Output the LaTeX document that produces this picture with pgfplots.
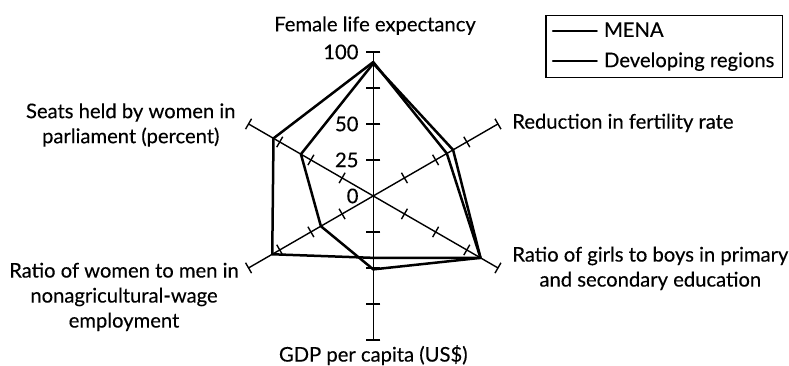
\documentclass[border=0pt]{standalone}
\usepackage{fontspec}
\setmainfont{Lato}[FakeBold=0.3]
\usepackage{pgfplots}
\pgfplotsset{compat=1.18}

\begin{document}
\begin{tikzpicture}[lbl/.style={font=\fontsize{10.1}{12.5}\selectfont, align=center, inner sep=0pt}]
\begin{axis}[
  scale only axis,
  width=394.5pt, height=183pt,
  xmin=-259.2, xmax=288.7,
  ymin=-118.1, ymax=136.1,
  hide axis, clip=false,
  legend style={at={(axis cs:284.5,125.8)}, anchor=north east,
    font=\fontsize{10.1}{11}\selectfont, draw=black, line width=0.6pt,
    nodes={inner sep=1pt}, inner xsep=3pt, inner ysep=2.5pt, row sep=4.2pt},
  legend cell align=left,
  legend image code/.code={\draw[#1, line width=0.9pt] (0pt,0pt) -- (22pt,0pt); \path (24pt,0pt);},
]
% spokes
\addplot[forget plot, data cs=polar, black, line width=0.7pt] coordinates {(90,100) (-90,100)};
\addplot[forget plot, data cs=polar, black, line width=0.7pt] coordinates {(30,100) (210,100)};
\addplot[forget plot, data cs=polar, black, line width=0.7pt] coordinates {(150,100) (-30,100)};
% ticks
\addplot[forget plot, data cs=polar, only marks, mark=-, mark size=3.5pt,
  mark options={black, line width=0.7pt}]
  coordinates {(90,25) (90,50) (90,75) (90,100) (-90,25) (-90,50) (-90,75) (-90,100)};
\addplot[forget plot, data cs=polar, only marks, mark=|, mark size=3pt,
  mark options={black, line width=0.7pt, rotate=30}]
  coordinates {(30,25) (30,50) (30,75) (30,100) (210,25) (210,50) (210,75) (210,100)};
\addplot[forget plot, data cs=polar, only marks, mark=|, mark size=3pt,
  mark options={black, line width=0.7pt, rotate=-30}]
  coordinates {(150,25) (150,50) (150,75) (150,100) (-30,25) (-30,50) (-30,75) (-30,100)};
% MENA
\addplot[data cs=polar, black, line width=1.25pt, line join=round, line cap=round]
  coordinates {(90,92) (30,64) (-30,86) (-90,51) (210,42) (150,58) (90,92)};
\addlegendentry{MENA}
% Developing regions
\addplot[data cs=polar, black, line width=1.25pt, line join=round, line cap=round]
  coordinates {(90,93) (30,59) (-30,86) (-90,43) (210,81) (150,80) (90,93)};
\addlegendentry{Developing regions}

% tick labels on the upper spoke
\node[lbl, anchor=east] at (axis cs:-10,100) {100};
\node[lbl, anchor=east] at (axis cs:-10,50) {50};
\node[lbl, anchor=east] at (axis cs:-10,25) {25};
\node[lbl, anchor=east] at (axis cs:-10,0) {0};

% spoke labels
\node[lbl] at (axis cs:1.2,118.3) {Female life expectancy};
\node[lbl, anchor=west] at (axis cs:96.3,50.7) {Reduction in fertility rate};
\node[lbl, anchor=west] at (axis cs:96.3,-50.3) {Ratio of girls to boys in primary\\and secondary education};
\node[lbl] at (axis cs:0,-110.5) {GDP per capita (US\$)};
\node[lbl] at (axis cs:-173.1,-70.1) {Ratio of women to men in\\nonagricultural-wage\\employment};
\node[lbl] at (axis cs:-168.4,49.3) {Seats held by women in\\parliament (percent)};
\end{axis}
\pgfresetboundingbox
\path[use as bounding box] (current axis.south west) rectangle (current axis.north east);
\end{tikzpicture}
\end{document}
